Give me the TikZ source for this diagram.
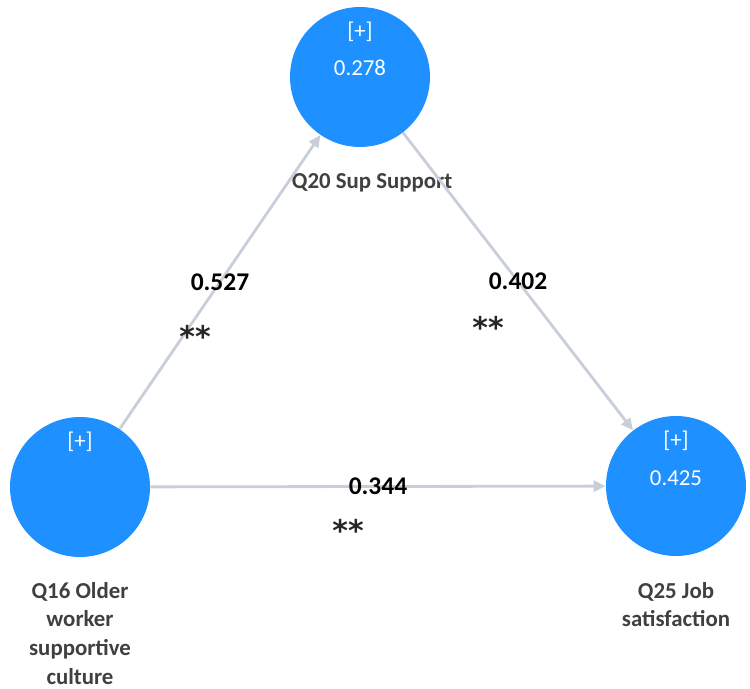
\documentclass[tikz,border=0pt]{standalone}
\usepackage{fontspec}
\setmainfont{Carlito}
\newfontfamily\dejavu{DejaVu Sans}
\usepackage{xcolor}
\usepackage{tikz}
\usetikzlibrary{
  arrows.meta,
  positioning,
  calc
}
\definecolor{lvblue}{RGB}{30,144,255}
\definecolor{pathgray}{RGB}{200,206,218}
\definecolor{labgray}{RGB}{64,64,64}

\begin{document}
\begin{tikzpicture}[x=0.02cm, y=-0.02cm,
  latent/.style={circle, fill=lvblue, minimum size=2.8cm, inner sep=0pt},
  intext/.style={text=white, font=\fontsize{13}{15}\selectfont},
  varname/.style={text=labgray, font=\fontsize{13}{16.3}\selectfont\bfseries, align=center},
  pathline/.style={draw=pathgray, line width=1.6pt, -{Triangle[width=0.22cm, length=0.24cm]}},
  coef/.style={text=black, font=\fontsize{14.5}{16}\selectfont\bfseries},
  sig/.style={text=black!85, font=\dejavu\bfseries\fontsize{17}{18}\selectfont}
]

% Canvas
\useasboundingbox (0,0) rectangle (750,689);

% Latent variables
\node[latent] (sup) at (360,77) {};
\node[latent] (old) at (80,487) {};
\node[latent] (job) at (676,486) {};

% Texts inside the circles
\node[intext] at ($(sup.center)+(0,-45)$) {[+]};
\node[intext] at ($(sup.center)+(0,-9)$) {0.278};
\node[intext] at ($(old.center)+(0,-45)$) {[+]};
\node[intext] at ($(job.center)+(0,-45)$) {[+]};
\node[intext] at ($(job.center)+(0,-8)$) {0.425};

% Variable names
\node[varname, anchor=north] (supname) at ($(sup.center)+(12,90)$) {Q20 Sup Support};
\node[varname, anchor=north] (oldname) at ($(old.center)+(0,89)$) {Q16 Older\\worker\\supportive\\culture};
\node[varname, anchor=north] (jobname) at ($(job.center)+(0,90)$) {Q25 Job\\satisfaction};

% Paths
\draw[pathline] (old) -- (sup)
  node[coef, pos=0.5] {0.527}
  node[sig, pos=0.5, xshift=-0.5cm, yshift=-1.08cm] {**};
\draw[pathline] (sup) -- (job)
  node[coef, pos=0.5] {0.402}
  node[sig, pos=0.5, xshift=-0.6cm, yshift=-0.92cm] {**};
\draw[pathline] (old) -- (job)
  node[coef, pos=0.5] {0.344}
  node[sig, pos=0.5, xshift=-0.6cm, yshift=-0.88cm] {**};

\end{tikzpicture}
\end{document}
